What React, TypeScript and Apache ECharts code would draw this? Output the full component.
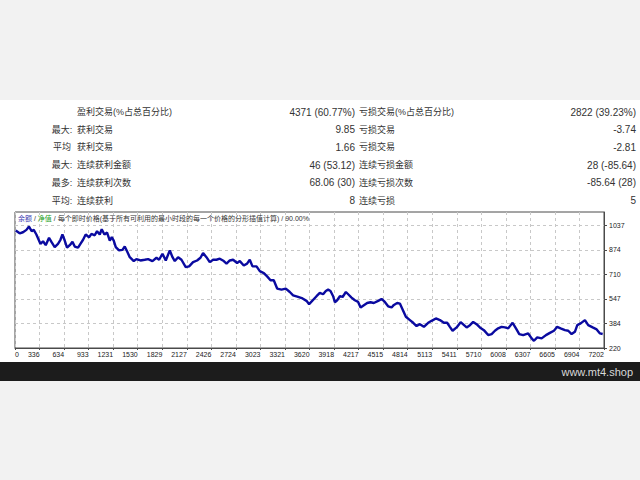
import React, { useEffect, useRef } from "react";
import * as echarts from "echarts";

// ---------- table data ----------
const rowPrefixes = ["", "最大:", "平均", "最大:", "最多:", "平均:"];
const winLabels = ["盈利交易(%占总百分比)", "获利交易", "获利交易", "连续获利金额", "连续获利次数", "连续获利"];
const winValues = ["4371 (60.77%)", "9.85", "1.66", "46 (53.12)", "68.06 (30)", "8"];
const lossLabels = ["亏损交易(%占总百分比)", "亏损交易", "亏损交易", "连续亏损金额", "连续亏损次数", "连续亏损"];
const lossValues = ["2822 (39.23%)", "-3.74", "-2.81", "28 (-85.64)", "-85.64 (28)", "5"];

// ---------- chart axes ----------
const xTickValues = [37, 336, 634, 933, 1231, 1530, 1829, 2127, 2426, 2724, 3023, 3321, 3620, 3918, 4217, 4515, 4814, 5113, 5411, 5710, 6008, 6307, 6605, 6904, 7202];
const xTickLabels = ["0", "336", "634", "933", "1231", "1530", "1829", "2127", "2426", "2724", "3023", "3321", "3620", "3918", "4217", "4515", "4814", "5113", "5411", "5710", "6008", "6307", "6605", "6904", "7202"];
const yTickValues = [220, 384, 547, 710, 874, 1037];

// ---------- balance curve (trade #, balance) ----------
const tradeIndex = [
  46, 94, 134, 176, 207, 240, 265, 297, 346, 378, 411, 451, 484, 520, 560, 590, 614, 642, 670, 703,
  736, 764, 804, 833, 865, 897, 938, 967, 1007, 1035, 1068, 1092, 1125, 1157, 1190, 1214, 1238, 1263, 1303, 1344,
  1372, 1400, 1433, 1482, 1514, 1563, 1615, 1656, 1709, 1758, 1790, 1831, 1871, 1920, 1953, 1981, 2021, 2062, 2114, 2155,
  2203, 2252, 2293, 2325, 2366, 2406, 2447, 2488, 2528, 2577, 2610, 2650, 2690, 2739, 2772, 2820, 2860, 2893, 2926, 2975,
  3015, 3064, 3104, 3145, 3185, 3226, 3279, 3331, 3380, 3420, 3481, 3535, 3583, 3615, 3705, 3745, 3785, 3818, 3846, 3875,
  3907, 3928, 3956, 3989, 4022, 4062, 4090, 4131, 4171, 4211, 4241, 4281, 4321, 4362, 4402, 4455, 4496, 4536, 4576, 4618,
  4646, 4686, 4719, 4752, 4792, 4841, 4881, 4922, 4962, 5011, 5063, 5105, 5157, 5206, 5254, 5294, 5327, 5360, 5409, 5458,
  5531, 5571, 5611, 5652, 5692, 5741, 5793, 5835, 5875, 5915, 5956, 5997, 6037, 6090, 6131, 6171, 6219, 6280, 6322, 6350,
  6390, 6443, 6496, 6544, 6593, 6633, 6674, 6727, 6767, 6808, 6848, 6877, 6918, 6970, 7010, 7064, 7113, 7153, 7186
];
const balance = [
  1002, 984, 991, 1007, 1029, 998, 1007, 976, 914, 931, 905, 954, 923, 892, 914, 941, 976, 936, 888, 905,
  927, 896, 888, 914, 941, 976, 958, 980, 971, 998, 976, 1011, 976, 989, 936, 958, 936, 892, 870, 874,
  896, 865, 825, 799, 812, 803, 808, 812, 799, 821, 808, 848, 803, 870, 825, 799, 825, 808, 759, 764,
  792, 803, 821, 852, 825, 792, 808, 808, 815, 799, 782, 803, 808, 786, 799, 770, 782, 808, 764, 764,
  732, 719, 697, 671, 671, 616, 609, 616, 593, 571, 560, 550, 534, 512, 565, 587, 578, 600, 609, 600,
  565, 525, 538, 565, 560, 593, 578, 556, 538, 527, 490, 505, 520, 525, 520, 534, 547, 527, 498, 490,
  507, 520, 516, 477, 428, 406, 388, 366, 379, 361, 388, 401, 417, 406, 388, 388, 361, 335, 357, 392,
  357, 372, 394, 379, 357, 339, 306, 313, 335, 351, 361, 357, 351, 388, 351, 313, 306, 317, 284, 268,
  291, 284, 306, 321, 335, 361, 351, 339, 335, 313, 328, 372, 384, 406, 372, 357, 344, 317, 313
];

const FONT = '"Liberation Sans", "Noto Sans CJK SC", sans-serif';

export default function App() {
  const ref = useRef<HTMLDivElement>(null);

  useEffect(() => {
    if (!ref.current) return;
    const chart = echarts.init(ref.current, undefined, { renderer: "svg" });

    const rowY = (i: number) => 112 + i * 17.7;
    const tableTexts: any[] = [];
    const cell = (x: number, y: number, text: string, align: string, size: number) => ({
      type: "text", x, y,
      style: { text, fill: "#333", fontSize: size, fontFamily: FONT, align, verticalAlign: "middle" },
    });
    rowPrefixes.forEach((p, i) => {
      if (p) tableTexts.push(cell(62, rowY(i), p, "center", 9));
      tableTexts.push(cell(77, rowY(i), winLabels[i], "left", 9));
      tableTexts.push(cell(355, rowY(i), winValues[i], "right", 10));
      tableTexts.push(cell(359, rowY(i), lossLabels[i], "left", 9));
      tableTexts.push(cell(636, rowY(i), lossValues[i], "right", 10));
    });

    const option: any = {
      animation: false,
      backgroundColor: "#f2f2f2",
      grid: {
        left: 15, top: 212, width: 589, height: 136,
        show: true, borderColor: "#4a4a4a", borderWidth: 1, backgroundColor: "#ffffff",
      },
      xAxis: {
        type: "value",
        min: 37,
        max: 7202,
        axisLine: { show: true, lineStyle: { color: "#4a4a4a" } },
        axisTick: { show: true, customValues: xTickValues, length: 2, lineStyle: { color: "#4a4a4a" } },
        axisLabel: {
          customValues: xTickValues,
          formatter: (v: number) => {
            const k = xTickValues.indexOf(v);
            return k >= 0 ? xTickLabels[k] : "";
          },
          align: "right",
          alignMinLabel: "left",
          fontSize: 7,
          fontFamily: FONT,
          color: "#222",
          margin: 3,
          showMinLabel: true,
          showMaxLabel: true,
        },
        splitLine: { show: true, lineStyle: { color: "#c8c8c8", type: [3, 3], width: 1 } },
      },
      yAxis: {
        type: "value",
        position: "right",
        min: 220,
        max: 1126,
        axisLine: { show: true, lineStyle: { color: "#4a4a4a" } },
        axisTick: { show: true, customValues: yTickValues, length: 3, lineStyle: { color: "#4a4a4a" } },
        axisLabel: {
          customValues: yTickValues,
          formatter: (v: number) => String(Math.round(v)),
          fontSize: 7,
          fontFamily: FONT,
          color: "#222",
          margin: 5,
        },
        splitLine: { show: true, lineStyle: { color: "#c8c8c8", type: [3, 3], width: 1 } },
      },
      series: [
        {
          type: "line",
          name: "余额",
          data: tradeIndex.map((x, i) => [x, balance[i]]),
          showSymbol: false,
          symbol: "none",
          lineStyle: { color: "#0a0aa0", width: 2.4 },
          z: 5,
        },
      ],
      graphic: [
        { type: "rect", silent: true, z: -10, shape: { x: 0, y: 100, width: 640, height: 262 }, style: { fill: "#ffffff" } },
        { type: "rect", silent: true, z: -10, shape: { x: 0, y: 362, width: 640, height: 19 }, style: { fill: "#1c1c1c" } },
        {
          type: "text", x: 633, y: 371.5, z: 10,
          style: { text: "www.mt4.shop", fill: "#d8d8d8", fontSize: 11, fontFamily: '"Liberation Sans", sans-serif', align: "right", verticalAlign: "middle" },
        },
        {
          type: "text", x: 18, y: 218.5, z: 10,
          style: {
            text: "{a|余额} / {b|净值} / 每个即时价格(基于所有可利用的最小时段的每一个价格的分形插值计算) / 90.00%",
            fill: "#333", fontSize: 7, fontFamily: FONT, align: "left", verticalAlign: "middle",
            rich: {
              a: { fill: "#3b3bb0", fontSize: 7, fontFamily: FONT },
              b: { fill: "#22a022", fontSize: 7, fontFamily: FONT },
            },
          },
        },
        ...tableTexts,
      ],
    };

    chart.setOption(option);
    return () => chart.dispose();
  }, []);

  return (
    <div style={{ position: "fixed", left: 0, top: 0, width: 640, height: 480 }}>
      <div ref={ref} style={{ width: 640, height: 480 }} />
    </div>
  );
}
